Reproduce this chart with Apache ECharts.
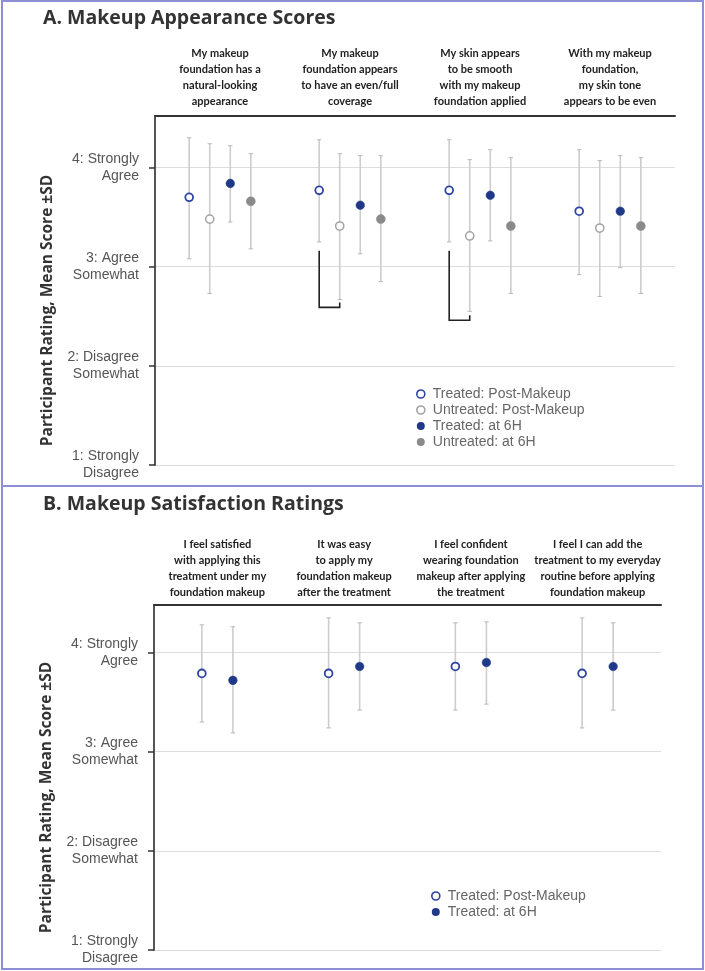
<!DOCTYPE html>
<html><head><meta charset="utf-8">
<script src="https://cdn.jsdelivr.net/npm/echarts@6/dist/echarts.min.js"></script>
<style>html,body{margin:0;padding:0;background:#fff}#c{width:705px;height:971px}</style>
</head><body><div id="c"></div>
<script>
// ---------- data ----------
const yTickValues = [1, 2, 3, 4];
const yTickLabels = ['1: Strongly\nDisagree', '2: Disagree\nSomewhat', '3: Agree\nSomewhat', '4: Strongly\nAgree'];

const categoriesA = [
  'My makeup\nfoundation has a\nnatural-looking\nappearance',
  'My makeup\nfoundation appears\nto have an even/full\ncoverage',
  'My skin appears\nto be smooth\nwith my makeup\nfoundation applied',
  'With my makeup\nfoundation,\nmy skin tone\nappears to be even'
];
const categoriesB = [
  'I feel satisfied\nwith applying this\ntreatment under my\nfoundation makeup',
  'It was easy\nto apply my\nfoundation makeup\nafter the treatment',
  'I feel confident\nwearing foundation\nmakeup after applying\nthe treatment',
  'I feel I can add the\ntreatment to my everyday\nroutine before applying\nfoundation makeup'
];

const nameTreatedPost = 'Treated: Post-Makeup';
const nameUntreatedPost = 'Untreated: Post-Makeup';
const nameTreated6H = 'Treated: at 6H';
const nameUntreated6H = 'Untreated: at 6H';

// Panel A: mean, lower (mean-SD), upper (mean+SD)
const aTreatedPostMean = [3.70, 3.77, 3.77, 3.56];
const aTreatedPostLow  = [3.08, 3.25, 3.25, 2.92];
const aTreatedPostHigh = [4.30, 4.28, 4.28, 4.18];

const aUntreatedPostMean = [3.48, 3.41, 3.31, 3.39];
const aUntreatedPostLow  = [2.73, 2.67, 2.55, 2.70];
const aUntreatedPostHigh = [4.24, 4.14, 4.08, 4.07];

const aTreated6HMean = [3.84, 3.62, 3.72, 3.56];
const aTreated6HLow  = [3.45, 3.13, 3.26, 2.99];
const aTreated6HHigh = [4.22, 4.12, 4.18, 4.12];

const aUntreated6HMean = [3.66, 3.48, 3.41, 3.41];
const aUntreated6HLow  = [3.18, 2.85, 2.73, 2.73];
const aUntreated6HHigh = [4.14, 4.12, 4.10, 4.10];

// significance brackets in panel A: [category, top, bottom, right end]
const aBrackets = [[1, 3.16, 2.59, 2.64], [2, 3.16, 2.46, 2.51]];

// Panel B
const bTreatedPostMean = [3.79, 3.79, 3.86, 3.79];
const bTreatedPostLow  = [3.30, 3.24, 3.42, 3.24];
const bTreatedPostHigh = [4.28, 4.35, 4.30, 4.35];

const bTreated6HMean = [3.72, 3.86, 3.90, 3.86];
const bTreated6HLow  = [3.19, 3.42, 3.48, 3.42];
const bTreated6HHigh = [4.26, 4.30, 4.31, 4.30];

// ---------- styles ----------
const BLUE = '#1f3888';
const styles = {};
styles[nameTreatedPost]   = {fill: '#ffffff', stroke: '#2d44a3', lw: 1.8, r: 3.9};
styles[nameUntreatedPost] = {fill: '#ffffff', stroke: '#a3a3a3', lw: 1.5, r: 4.1};
styles[nameTreated6H]     = {fill: BLUE, stroke: BLUE, lw: 0.5, r: 4.3};
styles[nameUntreated6H]   = {fill: '#8a8a8a', stroke: '#8a8a8a', lw: 0.5, r: 4.5};

function rows(cats, mean, low, high) {
  return cats.map((c, i) => [i, mean[i], low[i], high[i]]);
}

function makeRender(shift, st) {
  return function (params, api) {
    const cat = api.value(0), m = api.value(1), lo = api.value(2), hi = api.value(3);
    const bw = api.size([1, 0])[0];
    const pm = api.coord([cat, m]);
    const ph = api.coord([cat, hi]);
    const pl = api.coord([cat, lo]);
    const x = pm[0] + shift * bw;
    return {
      type: 'group',
      children: [
        {type: 'line', shape: {x1: x, y1: ph[1], x2: x, y2: pl[1]}, style: {stroke: '#cdcdcd', lineWidth: 1.6}},
        {type: 'line', shape: {x1: x - 2.2, y1: ph[1], x2: x + 2.2, y2: ph[1]}, style: {stroke: '#b8b8b8', lineWidth: 1}},
        {type: 'line', shape: {x1: x - 2.2, y1: pl[1], x2: x + 2.2, y2: pl[1]}, style: {stroke: '#b8b8b8', lineWidth: 1}},
        {type: 'circle', shape: {cx: x, cy: pm[1], r: st.r}, style: {fill: st.fill, stroke: st.stroke, lineWidth: st.lw}}
      ]
    };
  };
}

const stepA = 0.158;
const stepB = 0.245;

function series(name, gi, data, shift) {
  return {
    type: 'custom', name: name, xAxisIndex: gi, yAxisIndex: gi,
    data: data, encode: {x: 0, y: 1},
    itemStyle: {color: styles[name].fill, borderColor: styles[name].stroke},
    renderItem: makeRender(shift, styles[name]),
    z: 3
  };
}

const bracketSeries = {
  type: 'custom', name: 'bracket', xAxisIndex: 0, yAxisIndex: 0, data: aBrackets, encode: {x: 0, y: 1},
  renderItem: function (params, api) {
    const cat = api.value(0);
    const bw = api.size([1, 0])[0];
    const pt = api.coord([cat, api.value(1)]);
    const pb = api.coord([cat, api.value(2)]);
    const pr = api.coord([cat, api.value(3)]);
    const x1 = pt[0] - 1.5 * stepA * bw, x2 = pt[0] - 0.5 * stepA * bw;
    return {type: 'polyline', shape: {points: [[x1, pt[1]], [x1, pb[1]], [x2, pb[1]], [x2, pr[1]]]},
      style: {stroke: '#222', lineWidth: 1.6, fill: null}};
  },
  z: 4
};

function legendItem(name) {
  const s = styles[name];
  return {name: name, icon: 'circle', itemStyle: {color: s.fill, borderColor: s.stroke, borderWidth: s.lw > 1 ? 1.6 : 0}};
}

const labelFont = 'Liberation Sans';
const headFont = 'Lato, "DejaVu Sans Condensed", sans-serif';

function yAxis(gi, max, nameShift) {
  return {
    gridIndex: gi, type: 'value', min: 1, max: max,
    name: 'Participant Rating, Mean Score \u00B1SD', nameLocation: 'middle', nameGap: 99,
    nameTextStyle: {fontFamily: 'Open Sans', fontWeight: 'bold', fontSize: 15.5, color: '#333', padding: [0, nameShift, 0, 0]},
    axisLine: {show: true, lineStyle: {color: '#555', width: 2}},
    axisTick: {show: true, length: 6, customValues: yTickValues, lineStyle: {color: '#333', width: 1.5}},
    axisLabel: {customValues: yTickValues, margin: 16, fontFamily: labelFont, fontSize: 14, lineHeight: 17, color: '#555', align: 'right',
      formatter: v => { const i = yTickValues.indexOf(v); return i >= 0 ? yTickLabels[i] : ''; }},
    splitLine: {show: true, lineStyle: {color: '#dcdcdc', width: 1}}
  };
}

function xAxis(gi, cats, margin) {
  return {
    gridIndex: gi, type: 'category', data: cats, position: 'top',
    axisLine: {show: true, lineStyle: {color: '#333', width: 2}},
    axisTick: {show: false},
    splitLine: {show: false},
    axisLabel: {interval: 0, margin: margin, fontFamily: headFont, fontWeight: 'bold', fontSize: 11, lineHeight: 16, color: '#222', align: 'center'}
  };
}

const option = {
  animation: false,
  backgroundColor: '#ffffff',
  title: [
    {text: 'A. Makeup Appearance Scores', left: 38, top: 3, textStyle: {fontFamily: 'Open Sans', fontWeight: 'bold', fontSize: 19.5, color: '#333'}},
    {text: 'B. Makeup Satisfaction Ratings', left: 38, top: 489, textStyle: {fontFamily: 'Open Sans', fontWeight: 'bold', fontSize: 19.5, color: '#333'}}
  ],
  grid: [
    {left: 155, right: 30, top: 116, bottom: 506},
    {left: 154, right: 44, top: 605, bottom: 21}
  ],
  xAxis: [xAxis(0, categoriesA, 7), xAxis(1, categoriesB, 5)],
  yAxis: [yAxis(0, 4.52, 40), yAxis(1, 4.48, 40)],
  legend: [
    {orient: 'vertical', left: 411, top: 381, itemWidth: 14, itemHeight: 8, itemGap: 0,
      textStyle: {fontFamily: labelFont, fontSize: 14, color: '#666', lineHeight: 16},
      selectedMode: false,
      data: [nameTreatedPost, nameUntreatedPost, nameTreated6H, nameUntreated6H].map(legendItem)},
    {orient: 'vertical', left: 426, top: 883, itemWidth: 14, itemHeight: 8, itemGap: 0,
      textStyle: {fontFamily: labelFont, fontSize: 14, color: '#666', lineHeight: 16},
      selectedMode: false,
      data: [nameTreatedPost, nameTreated6H].map(legendItem)}
  ],
  graphic: [
    {type: 'rect', shape: {x: 2, y: 1, width: 701, height: 485}, style: {fill: null, stroke: '#8c8fd6', lineWidth: 2}, z: 10},
    {type: 'rect', shape: {x: 2, y: 486, width: 701, height: 483}, style: {fill: null, stroke: '#8c8fd6', lineWidth: 2}, z: 10}
  ],
  series: [
    series(nameTreatedPost, 0, rows(categoriesA, aTreatedPostMean, aTreatedPostLow, aTreatedPostHigh), -1.5 * stepA),
    series(nameUntreatedPost, 0, rows(categoriesA, aUntreatedPostMean, aUntreatedPostLow, aUntreatedPostHigh), -0.5 * stepA),
    series(nameTreated6H, 0, rows(categoriesA, aTreated6HMean, aTreated6HLow, aTreated6HHigh), 0.5 * stepA),
    series(nameUntreated6H, 0, rows(categoriesA, aUntreated6HMean, aUntreated6HLow, aUntreated6HHigh), 1.5 * stepA),
    bracketSeries,
    series(nameTreatedPost, 1, rows(categoriesB, bTreatedPostMean, bTreatedPostLow, bTreatedPostHigh), -0.5 * stepB),
    series(nameTreated6H, 1, rows(categoriesB, bTreated6HMean, bTreated6HLow, bTreated6HHigh), 0.5 * stepB)
  ]
};

const chart = echarts.init(document.getElementById('c'), null, {renderer: 'canvas'});
chart.setOption(option);
</script>
</body></html>
